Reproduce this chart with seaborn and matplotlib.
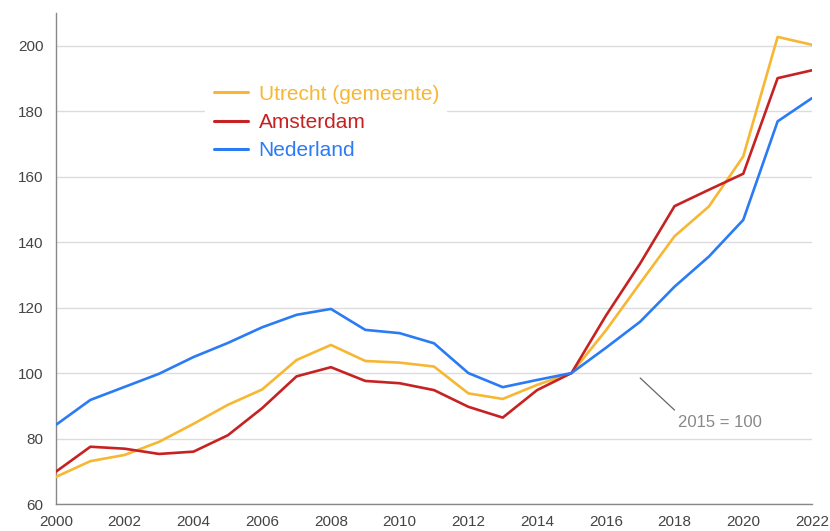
import pandas as pd
import matplotlib.pyplot as plt
import seaborn as sns
from matplotlib.ticker import MultipleLocator

jaren = list(range(2000, 2023))
utrecht = [68.3, 73.1, 75.0, 79.0, 84.5, 90.3, 95.0, 104.0, 108.6, 103.7, 103.2, 102.0,
           93.8, 92.1, 96.4, 100.0, 113.0, 127.5, 141.8, 150.9, 166.2, 202.7, 200.3]
amsterdam = [69.9, 77.5, 76.9, 75.3, 76.0, 81.0, 89.3, 99.0, 101.8, 97.6, 96.9, 94.8,
             89.7, 86.4, 94.8, 100.0, 117.5, 133.5, 151.0, 156.0, 160.9, 190.1, 192.5]
nederland = [84.2, 91.8, 95.8, 99.8, 104.9, 109.2, 114.0, 117.8, 119.6, 113.2, 112.2, 109.1,
             100.0, 95.7, 97.9, 100.0, 107.7, 115.7, 126.4, 135.6, 146.8, 176.9, 184.0]
regio_namen = ['Utrecht (gemeente)', 'Amsterdam', 'Nederland']
kleuren = ['#F7B733', '#C62222', '#2A7BF4']

df = pd.DataFrame({
    'jaar': jaren * 3,
    'index': utrecht + amsterdam + nederland,
    'regio': [r for r in regio_namen for _ in jaren],
})

sns.set_style('white')
plt.rcParams['font.family'] = ['Liberation Sans', 'DejaVu Sans']

fig = plt.figure(figsize=(8.3, 5.31), dpi=100)
ax = fig.add_axes([0.0675, 0.0508, 0.9108, 0.9247])

sns.lineplot(data=df, x='jaar', y='index', hue='regio', hue_order=regio_namen,
             palette=kleuren, linewidth=1.9, ax=ax, zorder=3)

ax.set_xlim(2000, 2022)
ax.set_ylim(60, 210)
ax.xaxis.set_major_locator(MultipleLocator(2))
ax.xaxis.set_minor_locator(MultipleLocator(1))
ax.yaxis.set_minor_locator(MultipleLocator(10))
ax.set_yticks([60, 80, 100, 120, 140, 160, 180, 200])
ax.grid(axis='y', which='major', color='#dcdcdc', linewidth=1.0, zorder=0)
ax.set_xlabel('')
ax.set_ylabel('')

for s in ['top', 'right']:
    ax.spines[s].set_visible(False)
for s in ['left', 'bottom']:
    ax.spines[s].set_color('#888888')
    ax.spines[s].set_linewidth(1.0)

ax.tick_params(axis='both', which='major', length=6, width=1, color='#999999',
               labelsize=11, labelcolor='#444444', pad=3, direction='out')
ax.tick_params(axis='x', which='minor', length=6, width=1, color='#999999', direction='out')
ax.tick_params(axis='y', which='minor', length=3, width=1, color='#cccccc', direction='out')
ax.tick_params(axis='x', which='major', pad=2)

leg = ax.legend(loc='upper left', bbox_to_anchor=(195 / 830, 1 - 66 / 531),
                bbox_transform=fig.transFigure, frameon=True, fancybox=False,
                edgecolor='white', facecolor='white', framealpha=1,
                fontsize=15, labelcolor='linecolor', handlelength=1.65,
                handletextpad=0.5, labelspacing=0.44, borderpad=0.4)
leg.get_frame().set_linewidth(0)
for line in leg.get_lines():
    line.set_linewidth(2.2)

ax.plot([2017.0, 2018.0], [98.5, 88.7], color='#666666', linewidth=0.9, zorder=4)
ax.text(2018.1, 84.9, '2015 = 100', fontsize=12, color='#888888', va='center', ha='left')

plt.savefig('out.png', dpi=100)
